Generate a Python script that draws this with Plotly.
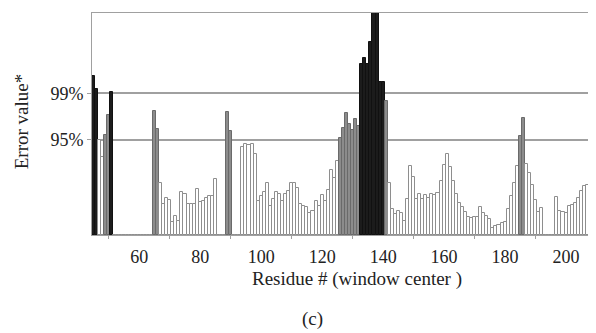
import plotly.graph_objects as go

# Residue numbers (window centers)
residues = list(range(45, 210))

# Error values (arbitrary units, 0 = no value)
error_values = [
    160, 147, 95, 78, 100, 120, 144,                      # 45-51
    0, 0, 0, 0, 0, 0, 0, 0, 0, 0, 0, 0, 0,                # 52-64
    124, 106,                                             # 65-66
    52, 31, 37, 35, 13, 19, 14, 43, 41, 31, 31, 31, 46,   # 67-79
    33, 34, 37, 39, 39, 56,                               # 80-85
    0, 0, 0,                                              # 86-88
    123, 104,                                             # 89-90
    0, 0, 0,                                              # 91-93
    88, 91, 90, 91, 81,                                   # 94-98
    34, 39, 43, 52, 29, 36, 43, 41, 34, 41, 44, 52, 52,   # 99-111
    47, 31, 29, 28, 22, 24, 34, 29, 40, 34, 45, 65, 57,   # 112-124
    74,                                                   # 125
    97, 107, 122, 111, 105, 116, 109,                     # 126-132
    172, 178, 172, 194, 240, 235, 154, 154,               # 133-140
    134,                                                  # 141
    52, 26, 21, 24, 22, 14, 36, 69, 58, 36, 41, 36, 40,   # 142-154
    37, 41, 40, 42, 54, 70, 81, 68, 54, 41, 32, 28, 23,   # 155-167
    18, 17, 18, 18, 28, 22, 19, 16, 7, 9, 10, 12, 13,     # 168-180
    26, 39, 52, 69,                                       # 181-184
    99, 117,                                              # 185-186
    71, 62, 50, 35, 23, 27,                               # 187-192
    0, 0, 0, 0,                                           # 193-196
    38, 24, 23, 22, 29, 30, 32, 37, 44, 49, 50, 53, 51,   # 197-209
]

# Significance thresholds (same units as error_values)
threshold_labels = ["95%", "99%"]
threshold_values = [95.5, 142.2]

x_tick_values = [60, 80, 100, 120, 140, 160, 180, 200]
x_minor_ticks = [50, 70, 90, 110, 130, 150, 170, 190, 210]

fills, lines = [], []
for v in error_values:
    if v > threshold_values[1]:
        fills.append("#1c1c1c"); lines.append("#111111")
    elif v > threshold_values[0]:
        fills.append("#8c8c8c"); lines.append("#6a6a6a")
    else:
        fills.append("#ffffff"); lines.append("#8e8e8e")

fig = go.Figure()
fig.add_trace(go.Bar(
    x=residues, y=error_values, width=1,
    marker=dict(color=fills, line=dict(color=lines, width=1)),
    showlegend=False, hoverinfo="x+y",
))

serif = "Liberation Serif"
fig.update_layout(
    width=588, height=325,
    margin=dict(l=84, r=1, t=5, b=98),
    paper_bgcolor="white", plot_bgcolor="white",
    bargap=0,
    font=dict(family=serif, size=18, color="#222222"),
    xaxis=dict(
        range=[44.5, 209.5],
        tickmode="array", tickvals=x_tick_values,
        ticktext=[str(t) for t in x_tick_values],
        ticks="outside", ticklen=5, tickcolor="rgba(0,0,0,0)",
        showgrid=False, zeroline=False,
        showline=True, linecolor="#a0a0a0", linewidth=1, mirror=True,
        minor=dict(tickmode="array", tickvals=x_minor_ticks, ticks="outside",
                   ticklen=3, tickcolor="#a0a0a0", showgrid=False),
        tickfont=dict(family=serif, size=18, color="#222222"),
    ),
    yaxis=dict(
        range=[0, 222.8],
        tickmode="array", tickvals=threshold_values, ticktext=threshold_labels,
        ticks="outside", ticklen=4, tickcolor="#a0a0a0",
        showgrid=True, gridcolor="#a0a0a0", gridwidth=1.5,
        zeroline=False,
        showline=True, linecolor="#a0a0a0", linewidth=1, mirror=True,
        tickfont=dict(family=serif, size=18, color="#222222"),
    ),
    annotations=[
        dict(text="Error value*", xref="paper", yref="paper", x=-0.141, y=0.508,
             textangle=-90, showarrow=False, xanchor="center", yanchor="middle",
             font=dict(family=serif, size=19, color="#222222")),
        dict(text="Residue # (window center )", xref="paper", yref="paper",
             x=0.526, y=-0.2, showarrow=False, xanchor="center", yanchor="middle",
             font=dict(family=serif, size=19, color="#222222")),
        dict(text="(c)", xref="paper", yref="paper", x=0.439, y=-0.38,
             showarrow=False, xanchor="center", yanchor="middle",
             font=dict(family=serif, size=19, color="#222222")),
    ],
)

fig.write_html("out.html")
